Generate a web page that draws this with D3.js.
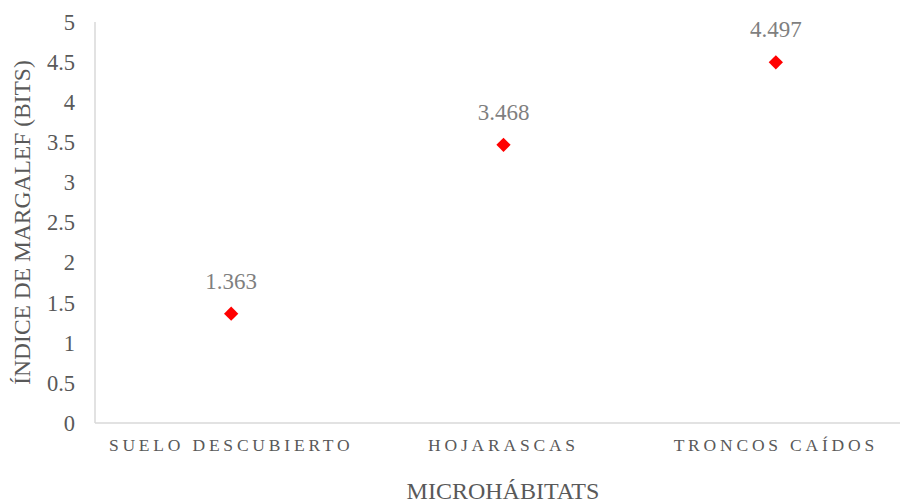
<!DOCTYPE html>
<html>
<head>
<meta charset="utf-8">
<script src="https://cdn.jsdelivr.net/npm/d3@7"></script>
<style>
  body { margin: 0; background: #fff; }
</style>
</head>
<body>
<svg id="chart" width="900" height="504" style="font-family: 'Liberation Serif', 'Times New Roman', Tinos, 'DejaVu Serif', serif;"></svg>
<script>
"use strict";
// Margalef index per microhabitat
let categories = ["SUELO DESCUBIERTO", "HOJARASCAS", "TRONCOS CAÍDOS"];
let values = [1.363, 3.468, 4.497];
let yTicks = [0, 0.5, 1, 1.5, 2, 2.5, 3, 3.5, 4, 4.5, 5];

let svg = d3.select("#chart");
let plotLeft = 95, plotRight = 912, plotTop = 22, plotBottom = 423;

let x = d3.scaleBand().domain(categories).range([plotLeft, plotRight]);
let y = d3.scaleLinear().domain([0, 5]).range([plotBottom, plotTop]);

// Axis lines (light gray, like the original)
svg.append("line")
    .attr("x1", plotLeft).attr("x2", plotLeft)
    .attr("y1", plotTop).attr("y2", plotBottom)
    .style("stroke", "#d9d9d9").style("stroke-width", "1.5px");
svg.append("line")
    .attr("x1", plotLeft).attr("x2", plotRight)
    .attr("y1", plotBottom).attr("y2", plotBottom)
    .style("stroke", "#d9d9d9").style("stroke-width", "1.5px");

// Y tick labels
svg.selectAll(".ytick").data(yTicks).enter().append("text")
    .attr("class", "ytick")
    .attr("x", 75)
    .attr("y", d => y(d))
    .attr("dy", "0.35em")
    .style("text-anchor", "end")
    .style("font-size", "22.5px")
    .style("fill", "#595959")
    .text(d => d);

// Category labels
svg.selectAll(".xcat").data(categories).enter().append("text")
    .attr("class", "xcat")
    .attr("x", d => x(d) + x.bandwidth() / 2)
    .attr("y", 451)
    .style("text-anchor", "middle")
    .style("font-size", "17.5px")
    .style("letter-spacing", "3.8px")
    .style("fill", "#595959")
    .text(d => d);

// Diamonds
let sym = d3.symbol().type(d3.symbolDiamond2).size(130);
svg.selectAll(".pt").data(values).enter().append("path")
    .attr("class", "pt")
    .attr("transform", (d, i) => "translate(" + (x(categories[i]) + x.bandwidth() / 2) + "," + y(d) + ")")
    .attr("d", sym)
    .style("fill", "#ff0000");

// Data labels
svg.selectAll(".dlabel").data(values).enter().append("text")
    .attr("class", "dlabel")
    .attr("x", (d, i) => x(categories[i]) + x.bandwidth() / 2)
    .attr("y", d => y(d) - 25)
    .style("text-anchor", "middle")
    .style("font-size", "23px")
    .style("fill", "#7f7f7f")
    .text(d => d.toFixed(3));

// Axis titles
svg.append("text")
    .attr("transform", "translate(30," + ((plotTop + plotBottom) / 2) + ") rotate(-90)")
    .style("text-anchor", "middle")
    .style("font-size", "23.5px")
    .style("fill", "#595959")
    .text("ÍNDICE DE MARGALEF (BITS)");

svg.append("text")
    .attr("x", 503)
    .attr("y", 499)
    .style("text-anchor", "middle")
    .style("font-size", "24px")
    .style("fill", "#595959")
    .text("MICROHÁBITATS");
</script>
</body>
</html>
